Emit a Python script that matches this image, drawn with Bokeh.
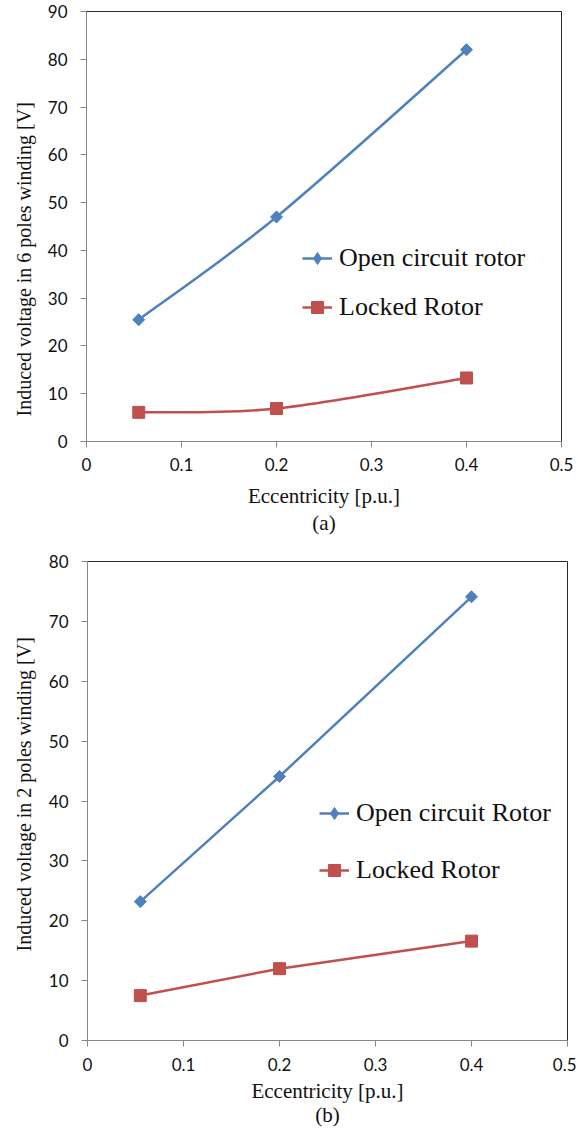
import numpy as np
from bokeh.plotting import figure
from bokeh.models import (FixedTicker, Legend, LegendItem, Title, Range1d, ColumnDataSource)
from bokeh.layouts import column, row
from bokeh.embed import file_html
from bokeh.resources import INLINE

# ---- data ----
ecc_a = [0.055, 0.2, 0.4]
open_a = [25.5, 47.0, 82.0]
locked_a = [6.1, 6.9, 13.3]

ecc_b = [0.055, 0.2, 0.4]
open_b = [23.2, 44.1, 74.1]
locked_b = [7.5, 12.0, 16.6]

x_ticks = [0, 0.1, 0.2, 0.3, 0.4, 0.5]
x_tick_labels = ["0", "0.1", "0.2", "0.3", "0.4", "0.5"]
y_ticks_a = list(range(0, 91, 10))
y_ticks_b = list(range(0, 81, 10))

BLUE = "#4F81BD"
RED = "#C0504D"
TICK_FONT = "Lato"
SERIF = "Liberation Serif"


def smooth_segments(xs, ys):
    """Catmull-Rom -> cubic Bezier control points (Excel-like smoothing)."""
    P = np.column_stack([xs, ys]).astype(float)
    n = len(P)
    segs = {k: [] for k in ("x0", "y0", "x1", "y1", "cx0", "cy0", "cx1", "cy1")}
    for i in range(n - 1):
        p0 = P[i - 1] if i > 0 else P[i]
        p1 = P[i]
        p2 = P[i + 1]
        p3 = P[i + 2] if i + 2 < n else P[i + 1]
        c1 = p1 + (p2 - p0) / 6.0
        c2 = p2 - (p3 - p1) / 6.0
        segs["x0"].append(p1[0]); segs["y0"].append(p1[1])
        segs["x1"].append(p2[0]); segs["y1"].append(p2[1])
        segs["cx0"].append(c1[0]); segs["cy0"].append(c1[1])
        segs["cx1"].append(c2[0]); segs["cy1"].append(c2[1])
    return ColumnDataSource(segs)


def style(p, yticks, ylabel, xlabel, ylabel_offset, line_h, x_std, xl_std, yl_std):
    p.xgrid.visible = False
    p.ygrid.visible = False
    p.outline_line_color = "#2b2b2b"
    p.outline_line_width = 1
    p.background_fill_color = "white"
    p.border_fill_color = "white"
    for ax in (p.xaxis[0], p.yaxis[0]):
        ax.axis_line_color = "#868686"
        ax.major_tick_line_color = "#868686"
        ax.minor_tick_line_color = None
        ax.major_tick_in = 0
        ax.major_tick_out = 6
        ax.major_label_text_font = TICK_FONT
        ax.major_label_text_font_size = "17px"
        ax.major_label_text_color = "#111111"
        ax.axis_label_text_font = SERIF
        ax.axis_label_text_font_style = "normal"
        ax.axis_label_text_font_size = "21px"
        ax.axis_label_text_color = "#111111"
    p.xaxis[0].ticker = FixedTicker(ticks=x_ticks)
    p.xaxis[0].major_label_overrides = {t: l for t, l in zip(x_ticks, x_tick_labels)}
    p.xaxis[0].major_label_standoff = x_std
    p.xaxis[0].axis_label = xlabel
    p.xaxis[0].axis_label_standoff = xl_std
    p.xaxis[0].axis_label_text_line_height = line_h
    p.yaxis[0].ticker = FixedTicker(ticks=yticks)
    p.yaxis[0].major_label_standoff = 13
    p.add_layout(Title(text=ylabel, align="left", offset=ylabel_offset, standoff=yl_std,
                       text_font=SERIF, text_font_size="20px", text_font_style="normal",
                       text_color="#111111"), "left")


def legend(p, items, loc, spacing):
    lg = Legend(items=items, location=loc, orientation="vertical",
                border_line_color=None, background_fill_alpha=0,
                padding=0, margin=0, spacing=spacing,
                glyph_width=30, glyph_height=30, label_height=30,
                label_standoff=7,
                label_text_font=SERIF, label_text_font_size="26px",
                label_text_color="#111111")
    p.add_layout(lg, "center")


# ---------- chart (a) ----------
pa = figure(width=576, height=540, output_backend="svg", toolbar_location=None,
            x_range=Range1d(0, 0.5), y_range=Range1d(0, 90),
            min_border_left=86, min_border_right=15, min_border_top=11, min_border_bottom=99)
style(pa, y_ticks_a, "Induced voltage in 6 poles  winding [V]",
      "Eccentricity [p.u.]\n(a)", 25, 1.15, 10, 10, 20)

src_oa = smooth_segments(ecc_a, open_a)
src_la = smooth_segments(ecc_a, locked_a)
ba_o = pa.bezier(x0="x0", y0="y0", x1="x1", y1="y1", cx0="cx0", cy0="cy0", cx1="cx1", cy1="cy1",
                 source=src_oa, line_color=BLUE, line_width=2.5)
ba_l = pa.bezier(x0="x0", y0="y0", x1="x1", y1="y1", cx0="cx0", cy0="cy0", cx1="cx1", cy1="cy1",
                 source=src_la, line_color=RED, line_width=2.5)
pa.scatter(ecc_a, open_a, marker="square", angle=np.pi / 4, size=8.5,
           fill_color=BLUE, line_color=BLUE)
da_o = pa.scatter(ecc_a, open_a, marker="diamond", size=11, fill_color=BLUE, line_color=BLUE)
sa_l = pa.scatter(ecc_a, locked_a, marker="square", size=12, fill_color=RED, line_color=RED)
legend(pa, [LegendItem(label="Open circuit rotor", renderers=[ba_o, da_o]),
            LegendItem(label="Locked Rotor", renderers=[ba_l, sa_l])], (216, 119), 19)

# ---------- chart (b) ----------
pb = figure(width=576, height=589, output_backend="svg", toolbar_location=None,
            x_range=Range1d(0, 0.5), y_range=Range1d(0, 80),
            min_border_left=87, min_border_right=9, min_border_top=21, min_border_bottom=86)
style(pb, y_ticks_b, "Induced voltage in 2 poles winding [V]",
      "Eccentricity [p.u.]\n(b)", 89, 1.0, 11, 5, 21)

lb_o = pb.line(ecc_b, open_b, line_color=BLUE, line_width=2.5)
lb_l = pb.line(ecc_b, locked_b, line_color=RED, line_width=2.5)
pb.scatter(ecc_b, open_b, marker="square", angle=np.pi / 4, size=8.5,
           fill_color=BLUE, line_color=BLUE)
db_o = pb.scatter(ecc_b, open_b, marker="diamond", size=11, fill_color=BLUE, line_color=BLUE)
sb_l = pb.scatter(ecc_b, locked_b, marker="square", size=12, fill_color=RED, line_color=RED)
legend(pb, [LegendItem(label="Open circuit Rotor", renderers=[lb_o, db_o]),
            LegendItem(label="Locked Rotor", renderers=[lb_l, sb_l])], (232, 155), 27)

layout = column(row(pa), row(pb), spacing=0)
open("out.html", "w").write(file_html(layout, INLINE))
